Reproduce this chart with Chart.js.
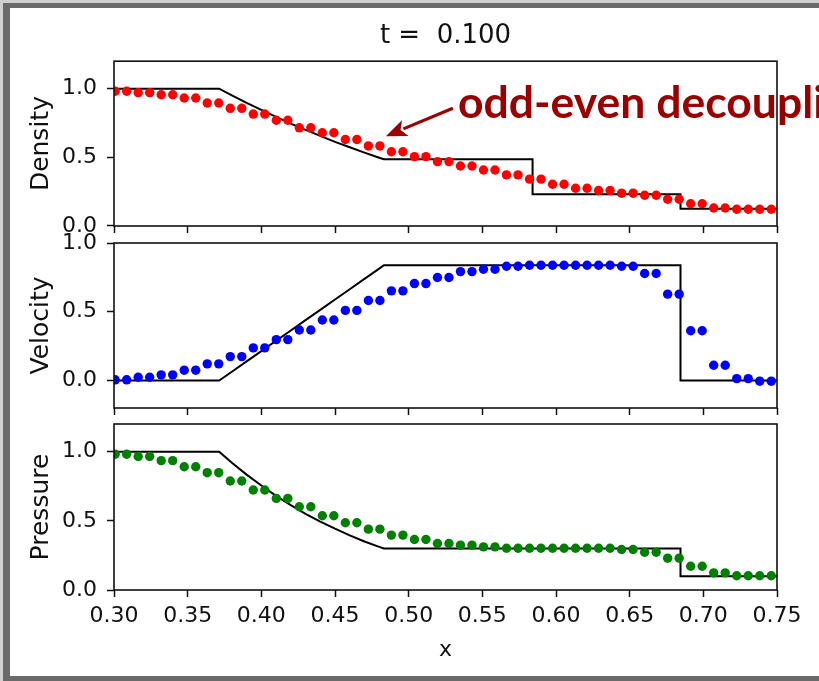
<!DOCTYPE html>
<html>
<head>
<meta charset="utf-8">
<script src="https://cdn.jsdelivr.net/npm/chart.js@4.4.0/dist/chart.umd.min.js"></script>
<style>
html,body{margin:0;padding:0;width:819px;height:681px;overflow:hidden;background:#d0d0d0;}
#frame{position:absolute;left:3px;top:3px;width:816px;height:678px;background:#6a6a6a;}
#paper{position:absolute;left:10px;top:8px;width:809px;height:668px;background:#ffffff;}
canvas{position:absolute;left:0;top:0;}
</style>
</head>
<body>
<div id="frame"></div>
<div id="paper"></div>
<canvas id="cRho" width="819" height="681"></canvas>
<canvas id="cVel" width="819" height="681"></canvas>
<canvas id="cPre" width="819" height="681"></canvas>
<script>
// ---------- data ----------
const titleText = 't =  0.100';
const xTicks = [0.30, 0.35, 0.40, 0.45, 0.50, 0.55, 0.60, 0.65, 0.70, 0.75];
const rhoTicks = [0.0, 0.5, 1.0];
const velTicks = [0.0, 0.5, 1.0];
const preTicks = [0.0, 0.5, 1.0];

// cell centres of the numerical solution
const xCells = [0.30078,0.30859,0.31641,0.32422,0.33203,0.33984,0.34766,0.35547,0.36328,0.37109,
  0.37891,0.38672,0.39453,0.40234,0.41016,0.41797,0.42578,0.43359,0.44141,0.44922,
  0.45703,0.46484,0.47266,0.48047,0.48828,0.49609,0.50391,0.51172,0.51953,0.52734,
  0.53516,0.54297,0.55078,0.55859,0.56641,0.57422,0.58203,0.58984,0.59766,0.60547,
  0.61328,0.62109,0.62891,0.63672,0.64453,0.65234,0.66016,0.66797,0.67578,0.68359,
  0.69141,0.69922,0.70703,0.71484,0.72266,0.73047,0.73828,0.74609];

const rhoNum = [0.981,0.981,0.971,0.971,0.956,0.956,0.932,0.932,0.896,0.896,
  0.857,0.857,0.815,0.815,0.770,0.770,0.715,0.715,0.679,0.679,
  0.630,0.630,0.583,0.583,0.541,0.541,0.505,0.505,0.469,0.469,
  0.437,0.437,0.408,0.408,0.372,0.372,0.341,0.341,0.304,0.304,
  0.275,0.275,0.258,0.258,0.239,0.239,0.224,0.224,0.195,0.195,
  0.162,0.162,0.131,0.131,0.122,0.122,0.122,0.122];

const velNum = [0.005,0.005,0.024,0.024,0.041,0.041,0.075,0.075,0.121,0.121,
  0.174,0.174,0.237,0.237,0.297,0.297,0.367,0.367,0.440,0.440,
  0.510,0.510,0.582,0.582,0.652,0.652,0.705,0.705,0.749,0.749,
  0.792,0.792,0.809,0.809,0.831,0.831,0.838,0.838,0.838,0.838,
  0.838,0.838,0.838,0.838,0.831,0.831,0.778,0.778,0.628,0.628,
  0.362,0.362,0.111,0.111,0.014,0.014,-0.005,-0.005];

const preNum = [0.981,0.981,0.965,0.965,0.935,0.935,0.891,0.891,0.848,0.848,
  0.788,0.788,0.723,0.723,0.662,0.662,0.602,0.602,0.537,0.537,
  0.486,0.486,0.440,0.440,0.397,0.397,0.365,0.365,0.336,0.336,
  0.324,0.324,0.312,0.312,0.302,0.302,0.302,0.302,0.302,0.302,
  0.302,0.302,0.302,0.302,0.293,0.293,0.273,0.273,0.230,0.230,
  0.172,0.172,0.124,0.124,0.103,0.103,0.103,0.103];

// exact (Riemann) solution
const xExact   = [0.30, 0.3714, 0.38, 0.39, 0.40, 0.41, 0.42, 0.43, 0.44, 0.45, 0.46, 0.47, 0.48, 0.4832, 0.5841, 0.5841, 0.6845, 0.6845, 0.75];
const rhoExact = [1.0, 1.0, 0.951, 0.897, 0.845, 0.794, 0.746, 0.700, 0.656, 0.613, 0.573, 0.534, 0.497, 0.486, 0.486, 0.232, 0.232, 0.125, 0.125];
const velExact = [0.0, 0.0, 0.064, 0.139, 0.214, 0.289, 0.364, 0.439, 0.514, 0.589, 0.664, 0.739, 0.814, 0.838, 0.838, 0.838, 0.838, 0.0, 0.0];
const preExact = [1.0, 1.0, 0.920, 0.834, 0.755, 0.681, 0.614, 0.551, 0.495, 0.443, 0.395, 0.351, 0.312, 0.300, 0.300, 0.300, 0.300, 0.100, 0.100];

// annotation (data coordinates of the density panel)
const annotText = 'odd-even decoupling';
const annotTextPos = {x: 0.5334, y: 0.785};
const annotTail = {x: 0.5300, y: 0.857};
const annotHead = {x: 0.4845, y: 0.654};

// ---------- helpers ----------
const FONT = 'DejaVu Sans';
const INK = '#000000';

const framePlugin = {
  id: 'frameBox',
  afterDatasetsDraw(chart) {
    const {ctx, chartArea: a} = chart;
    ctx.save();
    ctx.strokeStyle = '#111111';
    ctx.lineWidth = 1.6;
    ctx.strokeRect(a.left, a.top, a.right - a.left, a.bottom - a.top);
    ctx.restore();
  }
};

const annotPlugin = {
  id: 'annot',
  afterDraw(chart) {
    const {ctx, scales} = chart;
    const xs = scales.x, ys = scales.y;
    const tx = xs.getPixelForValue(annotTextPos.x), ty = ys.getPixelForValue(annotTextPos.y);
    const ax = xs.getPixelForValue(annotTail.x), ay = ys.getPixelForValue(annotTail.y);
    const hx = xs.getPixelForValue(annotHead.x), hy = ys.getPixelForValue(annotHead.y);
    const col = '#990000';
    ctx.save();
    ctx.font = 'bold 40px Lato';
    const w = ctx.measureText('odd-even decou').width;
    const size = 40 * 319 / w;
    ctx.font = 'bold ' + size.toFixed(1) + 'px Lato';
    ctx.fillStyle = col;
    ctx.textBaseline = 'alphabetic';
    ctx.textAlign = 'left';
    ctx.fillText(annotText, tx, ty);
    // arrow
    const dx = hx - ax, dy = hy - ay;
    const L = Math.hypot(dx, dy);
    const ux = dx / L, uy = dy / L;
    const headLen = 21, headW = 8.5;
    const bx = hx - ux * headLen, by = hy - uy * headLen;
    ctx.strokeStyle = col;
    ctx.lineWidth = 3.2;
    ctx.beginPath();
    ctx.moveTo(ax, ay);
    ctx.lineTo(bx + ux * 2, by + uy * 2);
    ctx.stroke();
    ctx.beginPath();
    ctx.moveTo(hx, hy);
    ctx.lineTo(bx - uy * headW, by + ux * headW);
    ctx.lineTo(bx + ux * 5, by + uy * 5);
    ctx.lineTo(bx + uy * headW, by - ux * headW);
    ctx.closePath();
    ctx.fill();
    ctx.restore();
  }
};

function xAxis(showLabels, height) {
  return {
    type: 'linear', min: 0.3, max: 0.75,
    afterBuildTicks: s => { s.ticks = xTicks.map(v => ({value: v})); },
    afterFit: s => { s.height = height; s.paddingLeft = 0; s.paddingRight = 0; },
    grid: {display: true, drawOnChartArea: false, drawTicks: true, tickLength: 7, tickColor: '#111111', tickWidth: 1.5},
    border: {display: false},
    ticks: {display: showLabels, padding: 6, color: '#111111', font: {family: FONT, size: 22}, maxRotation: 0, minRotation: 0, autoSkip: false,
            callback: v => Number(v).toFixed(2)},
    title: showLabels ? {display: true, text: 'x', color: '#111111', font: {family: FONT, size: 22}, padding: {top: 0, bottom: 18}} : {display: false}
  };
}

function yAxis(label, min, max, ticks) {
  return {
    type: 'linear', min: min, max: max,
    afterBuildTicks: s => { s.ticks = ticks.map(v => ({value: v})); },
    afterFit: s => { s.width = 114; s.paddingTop = 0; s.paddingBottom = 0; },
    grid: {display: true, drawOnChartArea: false, drawTicks: true, tickLength: 7, tickColor: '#111111', tickWidth: 1.5},
    border: {display: false},
    ticks: {padding: 10, color: '#111111', font: {family: FONT, size: 22}, callback: v => Number(v).toFixed(1)},
    title: {display: true, text: label, color: '#111111', font: {family: FONT, size: 25}, padding: {top: 26, bottom: 0}}
  };
}

function pts(xsArr, ysArr) { return xsArr.map((x, i) => ({x: x, y: ysArr[i]})); }

function makeChart(id, opts) {
  const plugins = [framePlugin];
  if (opts.annot) plugins.push(annotPlugin);
  return new Chart(document.getElementById(id), {
    type: 'scatter',
    data: {
      datasets: [
        {label: opts.label + ' (numerical)', data: pts(xCells, opts.num), showLine: false,
         pointRadius: 4.7, pointHoverRadius: 4.7, pointBackgroundColor: opts.color, backgroundColor: opts.color,
         pointBorderWidth: 0, borderWidth: 0, clip: 0},
        {label: opts.label + ' (exact)', data: pts(xExact, opts.exact), showLine: true, tension: 0,
         pointRadius: 0, borderColor: INK, borderWidth: 2, clip: 0}
      ]
    },
    options: {
      responsive: false, animation: false, devicePixelRatio: 1,
      layout: {padding: opts.padding},
      scales: {x: xAxis(opts.xLabels, opts.xHeight), y: yAxis(opts.label, opts.min, opts.max, opts.ticks)},
      plugins: {
        legend: {display: false}, tooltip: {enabled: false},
        title: opts.title ? {display: true, text: opts.title, fullSize: false, color: '#111111',
                             font: {family: FONT, size: 26, weight: 'normal'}, padding: {top: 21, bottom: 9}} : {display: false}
      }
    },
    plugins: plugins
  });
}

makeChart('cRho', {label: 'Density', num: rhoNum, exact: rhoExact, color: '#ff0000', min: 0, max: 1.2, ticks: rhoTicks,
  xLabels: false, xHeight: 7, padding: {left: 0, right: 42, top: 0, bottom: 448}, title: titleText, annot: true});
makeChart('cVel', {label: 'Velocity', num: velNum, exact: velExact, color: '#0000ff', min: -0.2, max: 1.0, ticks: velTicks,
  xLabels: false, xHeight: 7, padding: {left: 0, right: 42, top: 243, bottom: 266}});
makeChart('cPre', {label: 'Pressure', num: preNum, exact: preExact, color: '#008000', min: 0, max: 1.2, ticks: preTicks,
  xLabels: true, xHeight: 91, padding: {left: 0, right: 42, top: 424, bottom: 0}});
</script>
</body>
</html>
